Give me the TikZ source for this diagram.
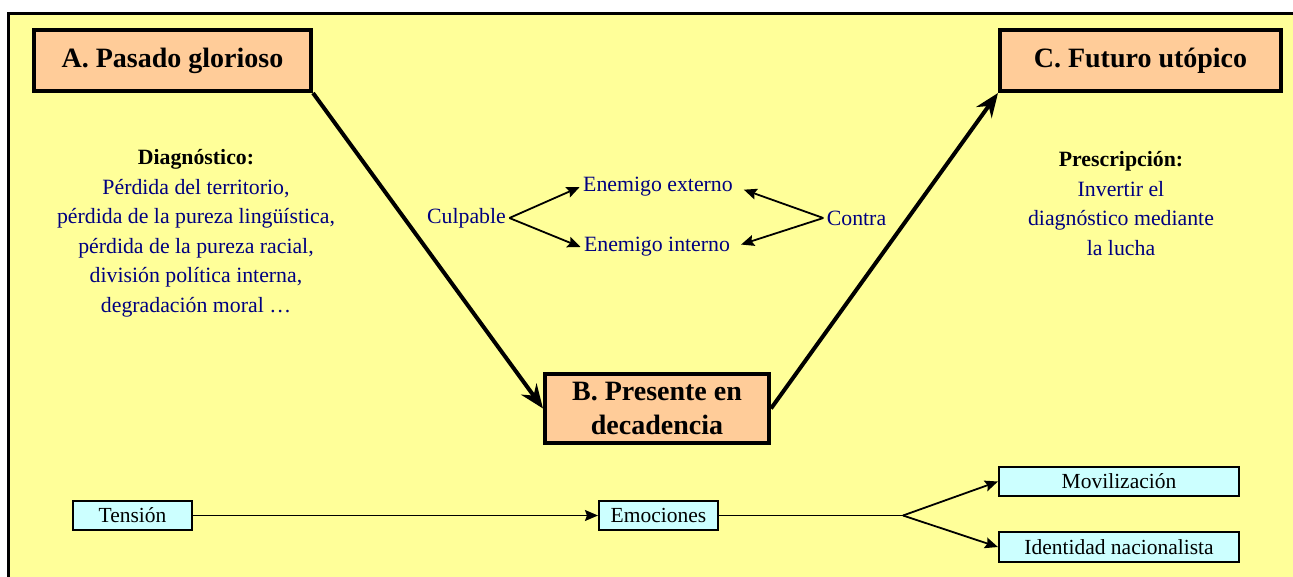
\documentclass[tikz,border=0pt]{standalone}
\usepackage{fontspec}
\setmainfont{Liberation Serif}
\usetikzlibrary{arrows.meta}
\definecolor{paleyellow}{RGB}{255,255,153}
\definecolor{peach}{RGB}{255,204,153}
\definecolor{palecyan}{RGB}{204,255,255}
\definecolor{navytext}{RGB}{0,0,128}
\tikzset{
	bigbox/.style={draw,line width=4pt,fill=peach,align=center,font=\fontsize{28}{34}\selectfont\bfseries},
	smallbox/.style={draw,line width=1.6pt,fill=palecyan,minimum height=29.5pt,font=\fontsize{21.5}{24}\selectfont},
	note/.style={text=navytext,align=center,font=\fontsize{21.8}{29.5}\selectfont},
	bigarrow/.style={line width=4pt,-{Stealth[length=24pt,width=19pt,inset=8pt]}},
	smallarrow/.style={line width=1.8pt,-{Stealth[length=13pt,width=11pt,inset=2pt]}}
}

\begin{document}
\begin{tikzpicture}[x=1pt,y=-1pt]
					\useasboundingbox (0,0) rectangle (1293,576);
					\clip (0,0) rectangle (1293,576);
					\draw[line width=3pt,fill=paleyellow] (8.5,13.5) rectangle (1320,600);

					\node [bigbox,minimum width=277pt,minimum height=61pt] (pasado) at (172.5,60.5) {A. Pasado glorioso};
					\node [bigbox,minimum width=224pt,minimum height=69pt] (presente) at (657,408.5) {B. Presente en\\decadencia};
					\node [bigbox,minimum width=281pt,minimum height=61pt] (futuro) at (1140.5,60.5) {C. Futuro utópico};

					\draw[bigarrow] (pasado.south east) -- (presente.west);
					\draw[bigarrow] (presente.east) -- (futuro.south west);

					\node [note] (diagnostico) at (196,233.5) {\textcolor{black}{\textbf{Diagnóstico:}}\\Pérdida del territorio,\\pérdida de la pureza lingüística,\\pérdida de la pureza racial,\\división política interna,\\degradación moral …};
					\node [note] (prescripcion) at (1121,203.5) {\textcolor{black}{\textbf{Prescripción:}}\\Invertir el\\diagnóstico mediante\\la lucha};

					\node [note] (culpable) at (466.5,218) {Culpable};
					\node [note] (externo) at (658,187) {Enemigo externo};
					\node [note] (interno) at (657,247) {Enemigo interno};
					\node [note] (contra) at (856.5,218) {Contra};

					\draw[smallarrow] (culpable.east) -- (externo.west);
					\draw[smallarrow] (culpable.east) -- (interno.west);
					\draw[smallarrow,shorten >=8pt] (contra.west) -- (externo.east);
					\draw[smallarrow,shorten >=8pt] (contra.west) -- (interno.east);

					\node [smallbox,minimum width=119.5pt] (tension) at (132.5,515.5) {Tensión};
					\node [smallbox,minimum width=119.5pt] (emociones) at (658.5,515.5) {Emociones};
					\node [smallbox,minimum width=240.5pt] (movilizacion) at (1119,481.5) {Movilización};
					\node [smallbox,minimum width=240.5pt] (identidad) at (1119,547) {Identidad nacionalista};
					\coordinate (fork) at (903,515.5);

					\draw[line width=1.5pt,-{Stealth[length=13pt,width=11pt,inset=2pt]}] (tension) -- (emociones);
					\draw[line width=1.5pt] (emociones) -- (fork);
					\draw[smallarrow] (fork) -- (movilizacion.west);
					\draw[smallarrow] (fork) -- (identidad.west);
				\end{tikzpicture}
\end{document}
